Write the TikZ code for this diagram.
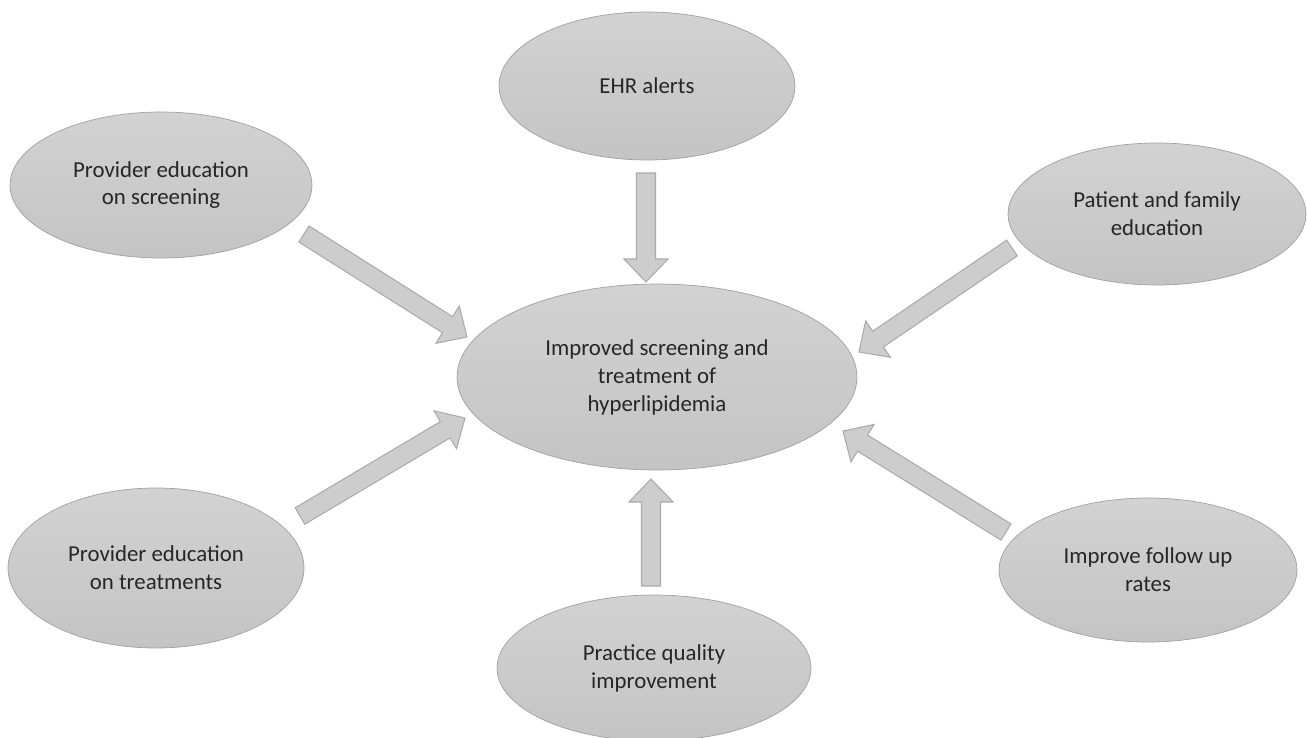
\documentclass[tikz,border=0pt]{standalone}
\usepackage{fontspec}
\setmainfont{Carlito}
\usetikzlibrary{shapes.geometric,calc}

\definecolor{bubbletop}{RGB}{210,210,210}
\definecolor{bubblebottom}{RGB}{196,196,196}
\definecolor{bubbleline}{RGB}{160,160,160}
\definecolor{arrowfill}{RGB}{205,205,205}
\definecolor{arrowline}{RGB}{170,170,170}
\definecolor{labeltext}{RGB}{38,38,38}

% Block arrow from a tail coordinate to a tip coordinate.
\newcommand{\blockarrow}[2]{%
    \coordinate (neck) at ($(#2)!0.46cm!(#1)$);
    \filldraw[fill = arrowfill, draw = arrowline, line width = 0.6pt]
        ($(#1)!0.19cm!90:(#2)$) -- ($(neck)!0.19cm!90:(#2)$)
        -- ($(neck)!0.44cm!90:(#2)$) -- (#2)
        -- ($(neck)!0.44cm!-90:(#2)$) -- ($(neck)!0.19cm!-90:(#2)$)
        -- ($(#1)!0.19cm!-90:(#2)$) -- cycle;
}

\begin{document}
\begin{tikzpicture}[x = 0.02cm, y = -0.02cm]
        \useasboundingbox (0, 0) rectangle (1307, 737);

        \begin{scope}[%
            every node/.style = {%
                ellipse,
                draw = bubbleline,
                top color = bubbletop,
                bottom color = bubblebottom,
                inner sep = 0pt,
                align = center,
                text = labeltext,
                font = \fontsize{13}{15.9}\selectfont
            }
        ]

            % Outcome in the middle and its six drivers.
            \node[minimum width = 8cm, minimum height = 3.72cm] (imp) at (657, 377)
                {Improved screening and\\treatment of\\hyperlipidemia};
            \node[minimum width = 5.92cm, minimum height = 2.96cm] (ehr) at (647, 86) {EHR alerts};
            \node[minimum width = 6.04cm, minimum height = 2.92cm] (scr) at (161, 185)
                {Provider education\\on screening};
            \node[minimum width = 5.96cm, minimum height = 2.84cm] (pat) at (1157, 214)
                {Patient and family\\education};
            \node[minimum width = 5.92cm, minimum height = 3.2cm] (trt) at (156, 568)
                {Provider education\\on treatments};
            \node[minimum width = 6.28cm, minimum height = 2.92cm] (qual) at (654, 668)
                {Practice quality\\improvement};
            \node[minimum width = 5.96cm, minimum height = 2.88cm] (fol) at (1148, 570)
                {Improve follow up\\rates};
        \end{scope}

        % Ends of the block arrows.
        \coordinate (ehrout) at (646, 173);
        \coordinate (ehrin) at (646, 282);
        \coordinate (scrout) at (304, 234);
        \coordinate (scrin) at (467, 337);
        \coordinate (patout) at (1012, 248);
        \coordinate (patin) at (859, 352);
        \coordinate (trtout) at (300, 516);
        \coordinate (trtin) at (465, 418);
        \coordinate (folout) at (1006, 532);
        \coordinate (folin) at (843, 431);
        \coordinate (qualout) at (651, 586);
        \coordinate (qualin) at (651, 479);

        % Arrows into the outcome.
        \blockarrow{ehrout}{ehrin}
        \blockarrow{scrout}{scrin}
        \blockarrow{patout}{patin}
        \blockarrow{trtout}{trtin}
        \blockarrow{folout}{folin}
        \blockarrow{qualout}{qualin}
    \end{tikzpicture}
\end{document}
